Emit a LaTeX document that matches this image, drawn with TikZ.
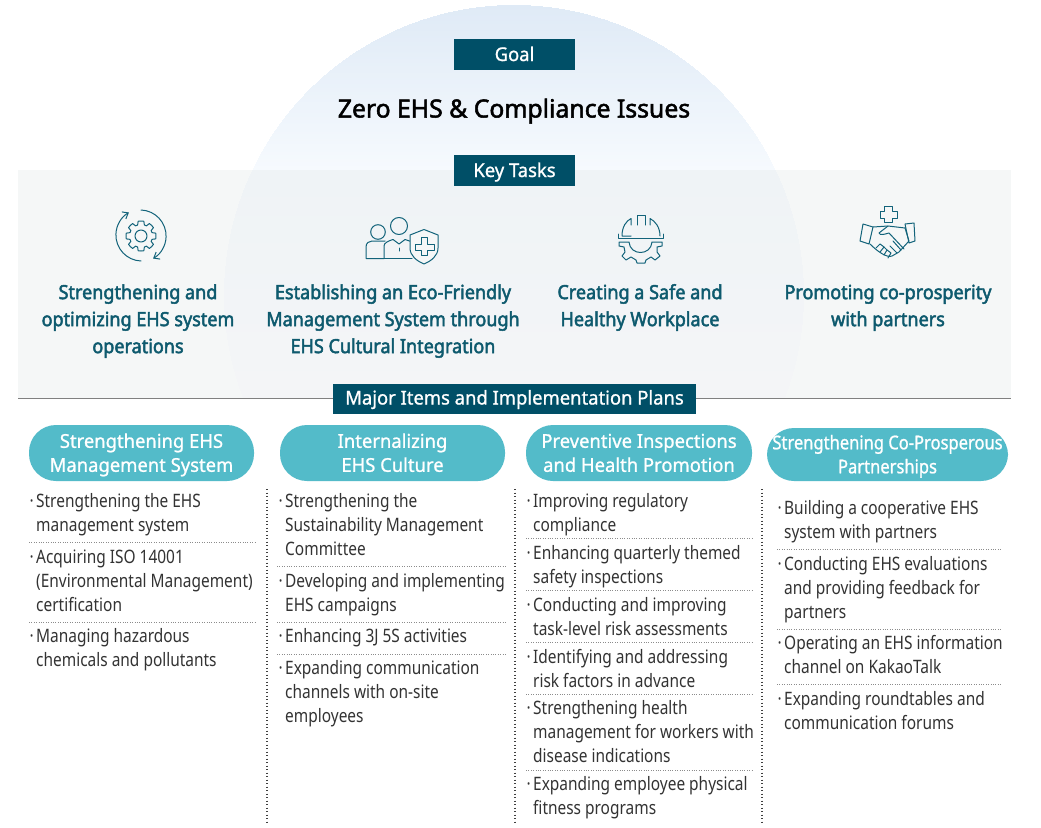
\documentclass[tikz,border=0pt]{standalone}
\usepackage{fontspec}
\setmainfont[FakeStretch=0.835]{Noto Sans}
\newfontfamily\medfont[FakeStretch=0.925,FakeBold=2.4]{Noto Sans}
\newfontfamily\capfont[FakeStretch=0.97,FakeBold=1.0]{Noto Sans}
\newfontfamily\tightfont[FakeStretch=0.87,FakeBold=1.0]{Noto Sans}
\newfontfamily\titlefont[FakeStretch=0.99,FakeBold=2.0]{Noto Sans}
\usetikzlibrary{arrows.meta,calc}
\definecolor{navy}{HTML}{004F67}
\definecolor{teal}{HTML}{53BBC9}
\definecolor{tasktext}{HTML}{0E5A6E}
\definecolor{icon}{HTML}{12637A}
\definecolor{listtext}{HTML}{333333}
\definecolor{panelc}{HTML}{F5F7F7}
\definecolor{dome1}{HTML}{DFEAF6}
\definecolor{dome2}{HTML}{F6FAFE}
\definecolor{dome3}{HTML}{EFF3F6}
\definecolor{dome4}{HTML}{F4F5F7}
\tikzset{
 darkbox/.style={fill=navy,text=white,inner sep=0,text height=13pt,text depth=0pt,font=\capfont\fontsize{19}{23}\selectfont,anchor=center},
 pill/.style={fill=teal,text=white,inner sep=0,rounded corners=27pt,align=center,anchor=center,font=\capfont\fontsize{19}{24}\selectfont},
 task/.style={text=tasktext,align=center,inner sep=0,anchor=north,font=\medfont\fontsize{19.5}{27}\selectfont},
 lst/.style={text=listtext,align=left,inner sep=0,anchor=north west,font=\fontsize{18.5}{24}\selectfont},
 sep/.style={draw=black!45,line width=.7pt,dash pattern=on .8pt off 1.6pt},
 vsep/.style={draw=black!75,line width=1.2pt,dash pattern=on 1.2pt off 2.3pt},
 ic/.style={draw=icon,line width=1pt,line join=round,line cap=round},
}
\newcommand{\itm}[4]{\node[lst] (#1) at (#2,#3-10) {\llap{·\hspace{2.5pt}}\strut #4};}
\newcommand{\pstrut}{\rule{0pt}{20.8pt}}
\newcommand{\gearpath}[4]{% cx cy inner outer
 \draw[ic] ($(#1,#2)+(0:#4)$) \foreach \a in {0,45,...,315}{
   -- ($(#1,#2)+(\a+11:#4)$) -- ($(#1,#2)+(\a+17:#3)$) -- ($(#1,#2)+(\a+28:#3)$) -- ($(#1,#2)+(\a+34:#4)$) -- ($(#1,#2)+(\a+45:#4)$)} -- cycle;}
\begin{document}
\begin{tikzpicture}[x=1pt,y=-1pt]
\useasboundingbox (0,0) rectangle (1041,827);
\fill[white] (0,0) rectangle (1041,827);
% dome, above the panel
\foreach \yy in {5,...,170}{
 \pgfmathsetmacro{\hw}{290*sqrt(max(0,1-((\yy+0.5-295)/290)^2))}
 \pgfmathsetmacro{\pc}{(\yy-5)/165*100}
 \fill[dome2!\pc!dome1] (514-\hw,\yy) rectangle (514+\hw,\yy+1.4);
}
\fill[panelc] (18,170) rectangle (1011,398);
% dome, on the panel
\foreach \yy in {170,...,397}{
 \pgfmathsetmacro{\hw}{290*sqrt(max(0,1-((\yy+0.5-295)/290)^2))}
 \pgfmathsetmacro{\pc}{(\yy-170)/228*100}
 \fill[dome4!\pc!dome3] (514-\hw,\yy) rectangle (514+\hw,\yy+1.4);
}
\draw[black!50,line width=1.2pt] (18,398.5) -- (1011,398.5);
% dark boxes
\node[darkbox,minimum width=121pt,minimum height=31pt] (goal) at (514.5,54.5) {Goal};
\node[font=\titlefont\fontsize{25}{30}\selectfont,inner sep=0] (title) at (514,111) {Zero EHS \& Compliance Issues};
\node[darkbox,minimum width=121pt,minimum height=31pt] (key) at (514.5,170.5) {Key Tasks};
\node[darkbox,minimum width=363pt,minimum height=30pt,text height=11pt] (major) at (514.5,399) {Major Items and Implementation Plans};
% task texts
\node[task] (t1) at (138,280) {\strut Strengthening and\\optimizing EHS system\\operations};
\node[task] (t2) at (393,280) {\strut Establishing an Eco-Friendly\\Management System through\\EHS Cultural Integration};
\node[task] (t3) at (640,280) {\strut Creating a Safe and\\Healthy Workplace};
\node[task] (t4) at (888,280) {\strut Promoting co-prosperity\\with partners};
% icon 1
\draw[ic,-{Straight Barb[length=5pt,width=8pt]}] (141,210) arc[start angle=-88,end angle=60,radius=26];
\draw[ic,-{Straight Barb[length=5pt,width=8pt]}] (141,261) arc[start angle=92,end angle=240,radius=26];
\gearpath{141}{236}{11.5}{15}
\draw[ic] (141,236) circle[radius=6];
% icon 2
\draw[ic] (378,232) circle[radius=7.3];
\draw[ic] (399,226) circle[radius=8.5];
\draw[ic] (384,258.5) -- (366,258.5) -- (366,247) .. controls (366,243) and (369,241) .. (372,241) -- (385,241);
\draw[ic] (384,258.5) -- (384,246) .. controls (384,243) and (388,241) .. (393,239.5) -- (399,244) -- (405,239.5) -- (411,241.5);
\draw[ic] (384,258.5) -- (412,258.5);
\draw[ic] (399,248) -- (399,251);
\draw[ic,fill=panelc] (424,229.5) -- (438,235) -- (438,248) .. controls (438,256) and (431,261) .. (424,264) .. controls (417,261) and (410,256) .. (410,248) -- (410,235) -- cycle;
\draw[ic] (421,237) -- (427,237) -- (427,244) -- (434,244) -- (434,250) -- (427,250) -- (427,255) -- (421,255) -- (421,250) -- (415,250) -- (415,244) -- (421,244) -- cycle;
% icon 3
\draw[ic] (631,236) -- (622,236) .. controls (622,227) and (626,221) .. (631,218.5) -- (631,225);
\draw[ic] (637,225) -- (637,215.5) -- (645,215.5) -- (645,225);
\draw[ic] (650,225) -- (650,218.5) .. controls (655,221) and (660,227) .. (660,236);
\draw[ic] (618,234) -- (618,238) -- (663,238) -- (663,234);
\draw[ic] (619,242) -- (629,242) .. controls (630,256) and (651,256) .. (652,242) -- (662,242) -- (662,246) -- (657,247) -- (657,252) -- (660,256) -- (655,260) -- (651,257) -- (646,260) -- (645,263) -- (637,263) -- (636,260) -- (631,257) -- (626,260) -- (622,256) -- (625,252) -- (624,247) -- (619,246) -- cycle;
% icon 4
\draw[ic] (884,206) -- (892,206) -- (892,211) -- (897,211) -- (897,218) -- (892,218) -- (892,222) -- (884,222) -- (884,218) -- (880,218) -- (880,211) -- (884,211) -- cycle;
\draw[ic] (863,224) -- (873,227) -- (869,244) -- (860,241) -- cycle;
\draw[ic] (905,224) -- (914,223) -- (915,241) -- (909,243) -- cycle;
\draw[ic] (873,227) -- (888,226) -- (905,228) -- (909,241) -- (899,252) -- (892,256) .. controls (887,258) and (878,252) .. (870,244);
\draw[ic] (888,226) -- (879,233) .. controls (880,236) and (885,234) .. (889,233) -- (904,249);
\draw[ic] (876,248) -- (880,244) -- (884,247) -- (880,252);
\draw[ic] (884,247) -- (887,250) -- (884,255);
\draw[ic] (887,250) -- (891,253) -- (888,258);
\draw[ic] (893,241) -- (901,250);
\draw[ic] (890,246) -- (897,253);
% pills
\node[pill,minimum width=225pt,minimum height=56pt] (p1) at (141.5,453) {\pstrut Strengthening EHS\\\strut Management System};
\node[pill,minimum width=225pt,minimum height=56pt] (p2) at (392.5,453) {\pstrut Internalizing\\\strut EHS Culture};
\node[pill,minimum width=226pt,minimum height=56pt] (p3) at (639,453) {\pstrut Preventive Inspections\\\strut and Health Promotion};
\node[pill,minimum width=241pt,minimum height=53pt,font=\tightfont\fontsize{19}{24}\selectfont] (p4) at (887.5,454.5) {\pstrut Strengthening Co-Prosperous\\\strut Partnerships};
% vertical dotted
\draw[vsep] (267,489) -- (267,822);
\draw[vsep] (515,489) -- (515,822);
\draw[vsep] (762,489) -- (762,822);
% column 1
\itm{a1}{36}{500}{Strengthening the EHS\\management system}
\draw[sep] (29,542.5) -- (255,542.5);
\itm{a2}{36}{556}{Acquiring ISO 14001\\(Environmental Management)\\certification}
\draw[sep] (29,622.5) -- (255,622.5);
\itm{a3}{36}{635}{Managing hazardous\\chemicals and pollutants}
% column 2
\itm{b1}{285}{500}{Strengthening the\\Sustainability Management\\Committee}
\draw[sep] (277,566.5) -- (506,566.5);
\itm{b2}{285}{580}{Developing and implementing\\EHS campaigns}
\draw[sep] (277,622.5) -- (506,622.5);
\itm{b3}{285}{635}{Enhancing 3J 5S activities}
\draw[sep] (277,654.5) -- (506,654.5);
\itm{b4}{285}{667}{Expanding communication\\channels with on-site\\employees}
% column 3
\itm{c1}{533}{500}{Improving regulatory\\compliance}
\draw[sep] (526,538.5) -- (752,538.5);
\itm{c2}{533}{552}{Enhancing quarterly themed\\safety inspections}
\draw[sep] (526,590.5) -- (752,590.5);
\itm{c3}{533}{604}{Conducting and improving\\task-level risk assessments}
\draw[sep] (526,642.5) -- (752,642.5);
\itm{c4}{533}{656}{Identifying and addressing\\risk factors in advance}
\draw[sep] (526,694.5) -- (752,694.5);
\itm{c5}{533}{707}{Strengthening health\\management for workers with\\disease indications}
\draw[sep] (526,770.5) -- (752,770.5);
\itm{c6}{533}{783}{Expanding employee physical\\fitness programs}
% column 4
\itm{d1}{784}{507}{Building a cooperative EHS\\system with partners}
\draw[sep] (777,549.5) -- (1002,549.5);
\itm{d2}{784}{563}{Conducting EHS evaluations\\and providing feedback for\\partners}
\draw[sep] (777,629.5) -- (1002,629.5);
\itm{d3}{784}{642}{Operating an EHS information\\channel on KakaoTalk}
\draw[sep] (777,684.5) -- (1002,684.5);
\itm{d4}{784}{698}{Expanding roundtables and\\communication forums}
\end{tikzpicture}
\end{document}
